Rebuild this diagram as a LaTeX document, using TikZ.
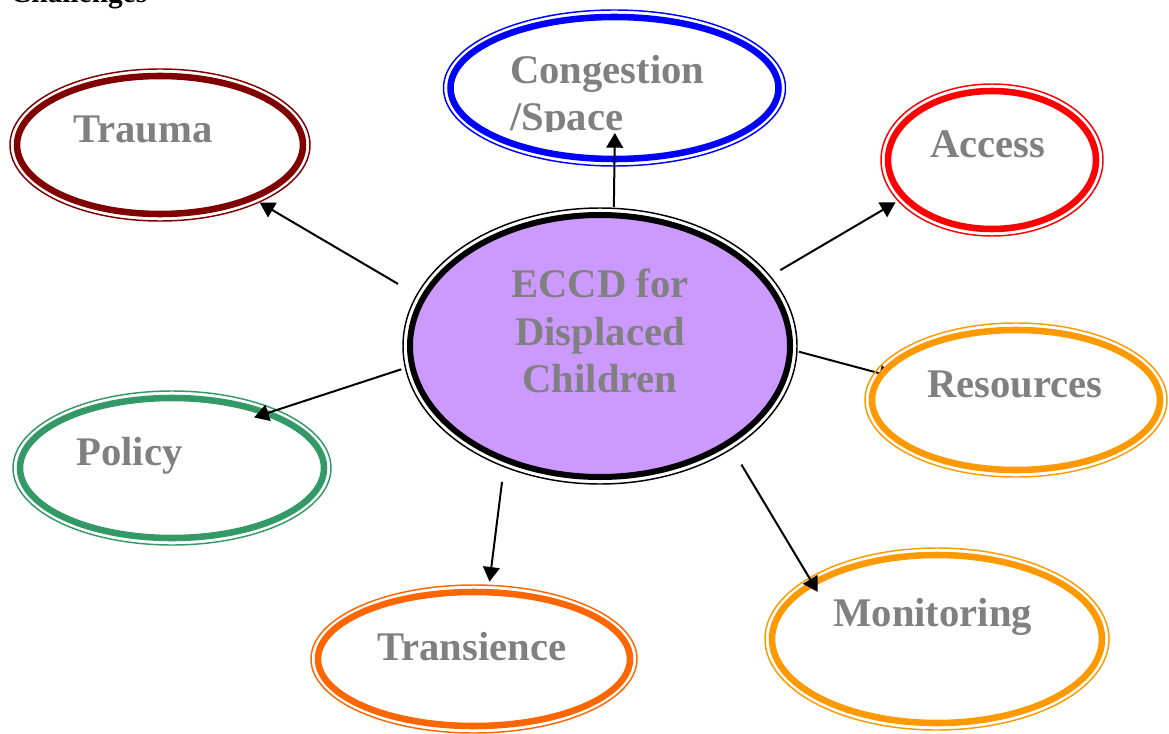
\documentclass[tikz,border=0pt]{standalone}
\usepackage{fontspec}
\setmainfont{Liberation Serif}
\usetikzlibrary{arrows.meta,calc,backgrounds,shapes.geometric}
\definecolor{traumared}{HTML}{800000}
\definecolor{congblue}{HTML}{0000FF}
\definecolor{accessred}{HTML}{FF0000}
\definecolor{resorange}{HTML}{FF9900}
\definecolor{policygreen}{HTML}{339966}
\definecolor{transorange}{HTML}{FF6600}
\definecolor{eccdfill}{HTML}{CC99FF}
\definecolor{labelgrey}{HTML}{808080}
\begin{document}
\begin{tikzpicture}[x=0.75pt,y=-0.75pt,
  bubble/.style={ellipse,draw,line width=4.9pt,inner sep=0pt,outer sep=0pt},
  ring/.style={line width=1.1pt},
  caption/.style={font=\fontsize{30.5}{35.5}\selectfont\bfseries,text=labelgrey,inner sep=0pt},
  link/.style={line width=1.5pt,-{Triangle[length=11pt,width=12.5pt]}}]
\useasboundingbox (0,0) rectangle (1169,734);
\node[font=\fontsize{22}{26}\selectfont\bfseries,anchor=base west,inner sep=0pt] (title) at (10,3) {Challenges};
\node[bubble,fill=eccdfill,line width=4.5pt,minimum width=285pt,minimum height=196.5pt] (eccd) at (600,346) {};
\node[bubble,traumared,minimum width=214.5pt,minimum height=103.5pt] (trauma) at (160,145) {};
\node[bubble,congblue,minimum width=246pt,minimum height=106.5pt] (congestion) at (614.5,88) {};
\node[bubble,accessred,minimum width=156pt,minimum height=103.5pt] (access) at (992,160) {};
\node[bubble,resorange,fill=white,minimum width=216pt,minimum height=105pt] (resources) at (1016,400) {};
\node[bubble,policygreen,minimum width=228pt,minimum height=105pt] (policy) at (172,468) {};
\node[bubble,transorange,minimum width=234pt,minimum height=100.5pt] (transience) at (474,659) {};
\node[bubble,resorange,minimum width=247.5pt,minimum height=126pt] (monitoring) at (937,639) {};
\foreach \nd/\col in {eccd/black,trauma/traumared,congestion/congblue,access/accessred,resources/resorange,policy/policygreen,transience/transorange,monitoring/resorange}
  \draw[ring,\col] let \p1=($(\nd.east)-(\nd.center)$), \p2=($(\nd.north)-(\nd.center)$) in (\nd.center) ellipse ({\x1+5.25pt} and {\y2+5.25pt});
\node[caption,align=center] (eccdText) at (600,331) {ECCD for\\Displaced\\Children};
\node[caption,anchor=base west] (traumaText) at (73,143) {Trauma};
\begin{scope}
\clip (440,0) rectangle (800,132);
\node[caption,align=left,anchor=north west] (congestionText) at (510,55) {Congestion\\/Space};
\end{scope}
\node[caption,anchor=base west] (accessText) at (930,158) {Access};
\node[caption,anchor=base west] (resourcesText) at (927,397) {Resources};
\node[caption,anchor=base west] (policyText) at (76,465) {Policy};
\node[caption,anchor=base west] (transienceText) at (377,660) {Transience};
\node[caption,anchor=base west] (monitoringText) at (833,626) {Monitoring};
\draw[link,shorten <=21.7pt,shorten >=7pt] (eccd.165) -- (trauma.-30);
\draw[link,shorten <=6.3pt,shorten >=-19.5pt] (eccd.84) -- (congestion.-90);
\draw[link,shorten <=14.3pt,shorten >=7.8pt] (eccd.22) -- (access.203);
\begin{scope}[on background layer]
\draw[link,shorten <=7pt,shorten >=-9pt] (eccd.-1) -- (resources.169);
\end{scope}
\draw[link,shorten <=8.6pt,shorten >=-10pt] (eccd.186) -- (policy.30);
\draw[link,shorten <=17pt,shorten >=8pt] (eccd.230) -- (transience.78);
\draw[link,shorten <=19.2pt,shorten >=-7.2pt] (eccd.-37) -- (monitoring.156);
\end{tikzpicture}
\end{document}
